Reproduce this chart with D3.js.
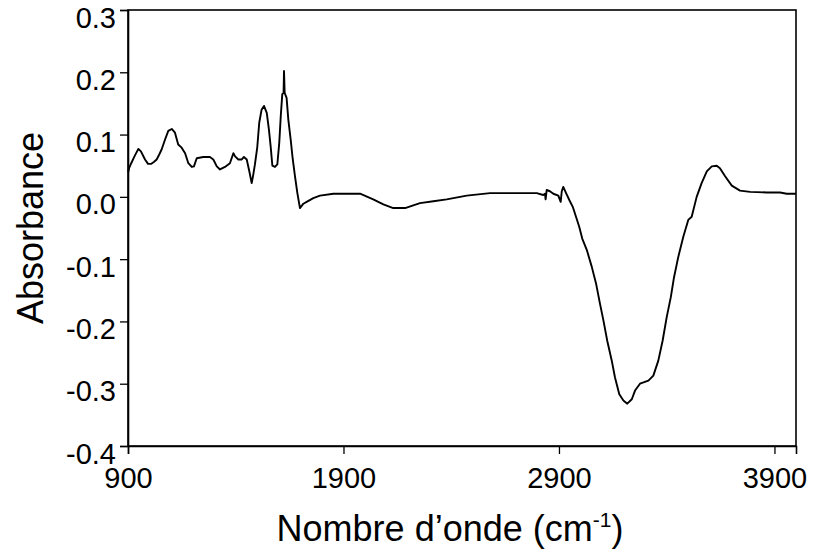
<!DOCTYPE html>
<html>
<head>
<meta charset="utf-8">
<script src="https://cdn.jsdelivr.net/npm/d3@7"></script>
<style>
  html, body { margin: 0; padding: 0; background: #fff; }
  svg text { font-family: "Liberation Sans", Arial, sans-serif; fill: #000; }
</style>
</head>
<body>
<svg id="chart" width="819" height="558"></svg>
<script>
// IR difference spectrum: wavenumber (cm-1) and absorbance
const wavenumber = [
  901, 905, 915, 930, 948, 960, 979, 993, 1008, 1020, 1033, 1045, 1056, 1072, 1087, 1103,
  1118, 1133, 1149, 1165, 1180, 1196, 1206, 1219, 1249, 1280, 1296, 1312, 1327, 1350, 1373,
  1389, 1397, 1412, 1428, 1438, 1451, 1463, 1474, 1481, 1489, 1500, 1509, 1520, 1531, 1544,
  1554, 1562, 1570, 1582, 1593, 1602, 1609, 1616, 1622, 1624, 1627, 1636, 1644, 1655, 1664,
  1675, 1686, 1698, 1714, 1729, 1760, 1791, 1853, 1915, 1977, 2038, 2085, 2131, 2186, 2255,
  2317, 2379, 2472, 2580, 2688, 2797, 2827, 2835, 2838, 2843, 2858, 2874, 2897, 2908, 2913,
  2920, 2933, 2948, 2964, 2979, 2994, 3008, 3029, 3052, 3072, 3090, 3106, 3124, 3145, 3160,
  3180, 3199, 3217, 3238, 3253, 3276, 3315, 3338, 3361, 3381, 3400, 3419, 3434, 3454, 3477,
  3500, 3516, 3539, 3562, 3586, 3609, 3632, 3647, 3671, 3702, 3740, 3787, 3864, 3926, 3957, 4000
];
const absorbance = [
  0.040, 0.046, 0.054, 0.065, 0.077, 0.073, 0.060, 0.053, 0.053, 0.056, 0.060, 0.068, 0.076,
  0.092, 0.106, 0.109, 0.103, 0.084, 0.079, 0.070, 0.054, 0.048, 0.049, 0.062, 0.064, 0.064,
  0.060, 0.049, 0.044, 0.048, 0.054, 0.070, 0.065, 0.060, 0.060, 0.064, 0.060, 0.041, 0.022,
  0.035, 0.052, 0.080, 0.119, 0.140, 0.146, 0.135, 0.108, 0.081, 0.050, 0.048, 0.052, 0.087,
  0.130, 0.165, 0.167, 0.202, 0.167, 0.159, 0.124, 0.092, 0.062, 0.033, 0.006, -0.018, -0.011,
  -0.008, -0.002, 0.002, 0.005, 0.005, 0.005, -0.004, -0.012, -0.018, -0.018, -0.010, -0.007,
  -0.004, 0.002, 0.006, 0.006, 0.006, 0.003, 0.005, -0.004, 0.011, 0.009, 0.005, 0.002, -0.008,
  0.009, 0.016, 0.006, -0.005, -0.016, -0.032, -0.048, -0.067, -0.085, -0.112, -0.139, -0.171,
  -0.198, -0.231, -0.263, -0.290, -0.317, -0.327, -0.332, -0.325, -0.311, -0.300, -0.295, -0.287,
  -0.263, -0.231, -0.193, -0.161, -0.129, -0.096, -0.064, -0.037, -0.032, 0.000, 0.022, 0.041,
  0.049, 0.050, 0.046, 0.033, 0.018, 0.010, 0.008, 0.007, 0.007, 0.005, 0.005
];
const xTicks = [900, 1900, 2900, 3900];
const yTicks = [-0.4, -0.3, -0.2, -0.1, 0.0, 0.1, 0.2, 0.3];
const xTitle = "Nombre d\u2019onde (cm";
const xTitleSup = "-1";
const yTitle = "Absorbance";

const margin = { left: 128, top: 10, right: 23, bottom: 112 };
const W = 819, H = 558;
const innerW = W - margin.left - margin.right;
const innerH = H - margin.top - margin.bottom;

const svg = d3.select("#chart");
const g = svg.append("g").attr("transform", `translate(${margin.left},${margin.top})`);

const x = d3.scaleLinear().domain([900, 4000]).range([0, innerW]);
const y = d3.scaleLinear().domain([-0.4, 0.3]).range([innerH, 0]);

// plain hyphen-minus for negative tick labels
const fmtY = v => d3.format(".1f")(v).replace("\u2212", "-");

// frame
g.append("rect")
  .attr("x", 0).attr("y", 0)
  .attr("width", innerW).attr("height", innerH)
  .attr("fill", "none").attr("stroke", "#000").attr("stroke-width", 1.6);

// axes: tick labels sit a little below their ticks
const xAxis = g.append("g")
  .attr("transform", `translate(0,${innerH})`)
  .call(d3.axisBottom(x).tickValues(xTicks).tickFormat(d3.format("d")).tickSizeOuter(0).tickSize(8));
const yAxis = g.append("g")
  .call(d3.axisLeft(y).tickValues(yTicks).tickFormat(fmtY).tickSizeOuter(0).tickSize(8));

[xAxis, yAxis].forEach(a => {
  a.select(".domain").attr("stroke", "#000").attr("stroke-width", 1.6);
  a.selectAll(".tick line").attr("stroke", "#000").attr("stroke-width", 1.3);
  a.selectAll(".tick text").attr("font-size", 29).attr("fill", "#000");
});
xAxis.selectAll(".tick text").attr("y", 42).attr("dy", null);
yAxis.selectAll(".tick text").attr("x", -12).attr("y", 17).attr("dy", null);

// spectrum
const pts = wavenumber.map((w, i) => [w, absorbance[i]]);
g.append("path")
  .datum(pts)
  .attr("fill", "none")
  .attr("stroke", "#000")
  .attr("stroke-width", 1.9)
  .attr("stroke-linejoin", "round")
  .attr("d", d3.line().x(d => x(d[0])).y(d => y(d[1])));

// titles
const xt = svg.append("text")
  .attr("x", 450)
  .attr("y", 541)
  .attr("text-anchor", "middle")
  .attr("font-size", 36);
xt.append("tspan").text(xTitle);
xt.append("tspan").attr("font-size", 21).attr("dy", -14).text(xTitleSup);
xt.append("tspan").attr("dy", 14).text(")");

svg.append("text")
  .attr("transform", `translate(43,${margin.top + innerH / 2}) rotate(-90)`)
  .attr("text-anchor", "middle")
  .attr("font-size", 36)
  .text(yTitle);
</script>
</body>
</html>
